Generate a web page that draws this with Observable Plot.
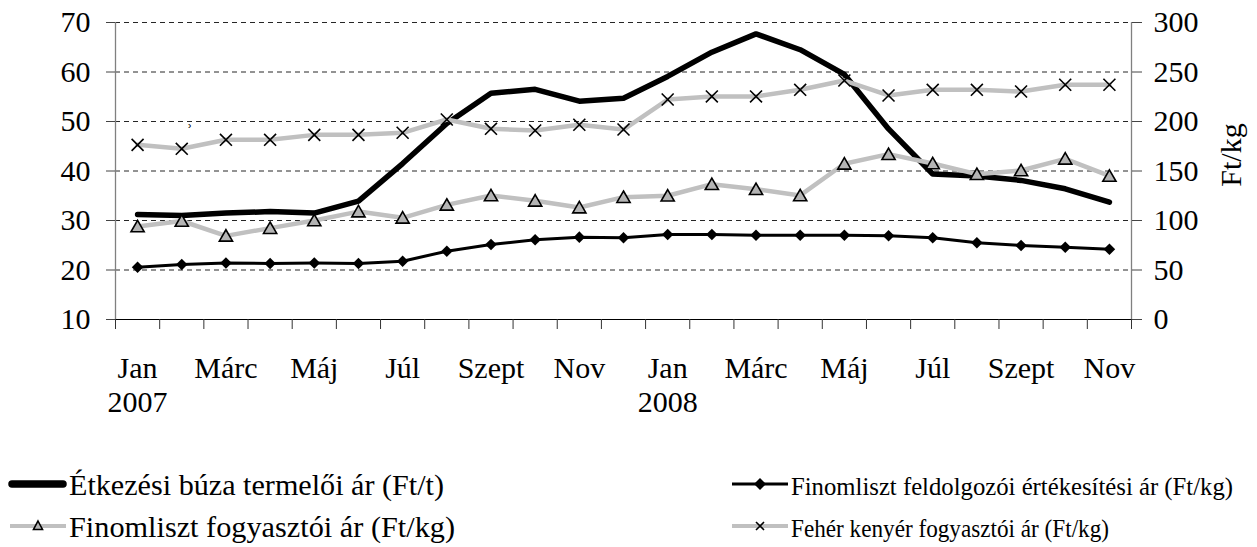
<!DOCTYPE html>
<html><head><meta charset="utf-8">
<script src="https://cdn.jsdelivr.net/npm/d3@7"></script>
<script src="https://cdn.jsdelivr.net/npm/@observablehq/plot@0.6"></script>
<style>
body{margin:0;background:#fff;font-family:"Liberation Serif","Times New Roman",Times,serif;}
#chart svg, #legend svg{display:block;}
</style></head><body>
<div id="chart"></div>
<div id="legend"></div>
<script>
// ---- data ----
const months = ["Jan","Febr","Márc","Ápr","Máj","Jún","Júl","Aug","Szept","Okt","Nov","Dec",
                "Jan","Febr","Márc","Ápr","Máj","Jún","Júl","Aug","Szept","Okt","Nov"];
const years = ["2007","","","","","","","","","","","","2008","","","","","","","","","",""];
// left axis (ezer Ft/t)
const wheat = [31.2,31.0,31.5,31.8,31.5,33.9,41.5,49.6,55.7,56.5,54.1,54.7,59.1,64.0,67.7,64.5,59.5,48.5,39.4,39.0,38.1,36.4,33.7];
// right axis (Ft/kg)
const flourProc = [52.8,55.6,57.0,56.6,57.0,56.6,58.9,69.0,75.8,80.5,83.2,82.5,85.9,85.9,85.2,85.2,85.2,84.5,82.5,77.5,74.7,73.0,71.0];
const flourCons = [94,99.5,84.5,92.3,100,109,102.7,115.8,125.3,119.9,113.1,123.6,125,136.7,131.6,125.3,157.3,167,157.6,146.8,150.5,162.3,145];
const bread = [176.4,172.4,181.5,181.5,186.5,186.5,188.6,202,192.6,190.9,196.7,191.9,222.2,225.3,225.3,232,241.4,226.3,232,232,230.3,237.1,237.1];
const leftTicks = [10,20,30,40,50,60,70];
const rightTicks = [0,50,100,150,200,250,300];
const seriesNames = ["Étkezési búza termelői ár (Ft/t)","Finomliszt feldolgozói értékesítési ár (Ft/kg)",
                     "Finomliszt fogyasztói ár (Ft/kg)","Fehér kenyér fogyasztói ár (Ft/kg)"];
const rightAxisLabel = "Ft/kg";
const strayMark = "ʾ";

// ---- build ----
const FONT = '"Liberation Serif","Times New Roman",Times,serif';
const toLeft = v => v / 5 + 10;      // right axis (0–300) mapped onto left (10–70)
const n = months.length;
const rows = months.map((m, i) => ({
  x: i + 0.5, month: m, year: years[i],
  wheat: wheat[i], proc: toLeft(flourProc[i]), cons: toLeft(flourCons[i]), bread: toLeft(bread[i])
}));
const labelRows = rows.filter((d, i) => i % 2 === 0);
const W = 1257, H = 440, plotBottom = 319;
const grey = "#c0c0c0";

const chart = Plot.plot({
  width: W, height: H,
  marginLeft: 115, marginRight: 126, marginTop: 22, marginBottom: H - plotBottom,
  style: {fontFamily: FONT, fontSize: "30px", color: "#000", background: "#fff", overflow: "visible"},
  x: {type: "linear", domain: [0, n], axis: null},
  y: {domain: [10, 70], axis: null},
  marks: [
    Plot.ruleY(leftTicks.filter(t => t > 10), {stroke: "#000", strokeWidth: 1, strokeDasharray: "5,4", strokeOpacity: 0.85}),
    Plot.ruleX([0, n], {y1: 10, y2: 70, stroke: "#808080", strokeWidth: 1.3}),
    Plot.ruleY([10], {stroke: "#000", strokeWidth: 1}),
    Plot.axisY({anchor: "left", ticks: leftTicks, tickSize: 9, tickPadding: 16, tickFormat: d => d, label: null, stroke: "#444", fontSize: 30}),
    Plot.axisY({anchor: "right", ticks: rightTicks.map(toLeft), tickSize: 10, tickPadding: 12,
      tickFormat: d => Math.round((d - 10) * 5), label: null, stroke: "#444", fontSize: 30}),
    Plot.axisX({ticks: d3.range(n + 1), tickSize: 10, tickFormat: () => "", label: null, stroke: "#333"}),
    Plot.axisX({ticks: labelRows.map(d => d.x), tickSize: 0, tickPadding: 35, label: null, lineHeight: 1.12, fontSize: 30,
      tickFormat: d => { const r = rows[Math.round(d - 0.5)]; return r.year ? r.month + "\n" + r.year : r.month; }}),
    Plot.text([rightAxisLabel], {frameAnchor: "right", textAnchor: "middle", dx: 100, dy: -16, rotate: -90, fontSize: 30}),
    Plot.line(rows, {x: "x", y: "wheat", stroke: "#000", strokeWidth: 5.5, strokeLinejoin: "round", strokeLinecap: "round"}),
    Plot.line(rows, {x: "x", y: "proc", stroke: "#000", strokeWidth: 3}),
    Plot.dot(rows, {x: "x", y: "proc", symbol: "square", rotate: 45, r: 4.6, fill: "#000"}),
    Plot.line(rows, {x: "x", y: "cons", stroke: grey, strokeWidth: 4.5}),
    Plot.dot(rows, {x: "x", y: "cons", symbol: "triangle", r: 4.9, dy: 1.5, fill: "#b4b4b4", stroke: "#000", strokeWidth: 1.6}),
    Plot.line(rows, {x: "x", y: "bread", stroke: grey, strokeWidth: 4.5}),
    Plot.dot(rows, {x: "x", y: "bread", symbol: "times", r: 5.5, stroke: "#000", strokeWidth: 1.6}),
    Plot.text([rows[1]], {x: "x", y: "bread", text: () => strayMark, dx: 8, dy: -17, fontSize: 22})
  ]
});
document.getElementById("chart").appendChild(chart);

// ---- legend (below the plot SVG) ----
const LH = 547 - H;
const lsvg = d3.select("#legend").append("svg").attr("width", W).attr("height", LH)
  .attr("font-family", FONT);
const items = [
  {col: 0, row: 0, size: 30, textLen: 375}, {col: 1, row: 0, size: 26, textLen: 442},
  {col: 0, row: 1, size: 30, textLen: 386}, {col: 1, row: 1, size: 26, textLen: 318}
];
const colX = [8, 730], rowY = [44, 86];
items.forEach((it, i) => {
  const g = lsvg.append("g").attr("transform", `translate(${colX[it.col]},${rowY[it.row]})`);
  if (i === 0) {
    g.append("line").attr("x1", 4).attr("x2", 55).attr("stroke", "#000").attr("stroke-width", 7.5).attr("stroke-linecap", "round");
  } else if (i === 1) {
    g.append("line").attr("x1", 2).attr("x2", 58).attr("stroke", "#000").attr("stroke-width", 3);
    g.append("path").attr("d", "M30 -6L36 0L30 6L24 0Z").attr("fill", "#000");
  } else if (i === 2) {
    g.append("line").attr("x1", 2).attr("x2", 58).attr("stroke", grey).attr("stroke-width", 4);
    g.append("path").attr("d", "M30 -5L34.5 3.5L25.5 3.5Z").attr("fill", "#b4b4b4").attr("stroke", "#000").attr("stroke-width", 1.6);
  } else {
    g.append("line").attr("x1", 2).attr("x2", 58).attr("stroke", grey).attr("stroke-width", 4);
    g.append("path").attr("d", "M26 -4L34 4M34 -4L26 4").attr("stroke", "#000").attr("stroke-width", 1.6);
  }
  g.append("text").attr("x", 61).attr("y", 11).attr("font-size", it.size)
    .attr("textLength", it.textLen).attr("lengthAdjust", "spacingAndGlyphs").attr("fill", "#000").text(seriesNames[i]);
});
</script>
</body></html>
